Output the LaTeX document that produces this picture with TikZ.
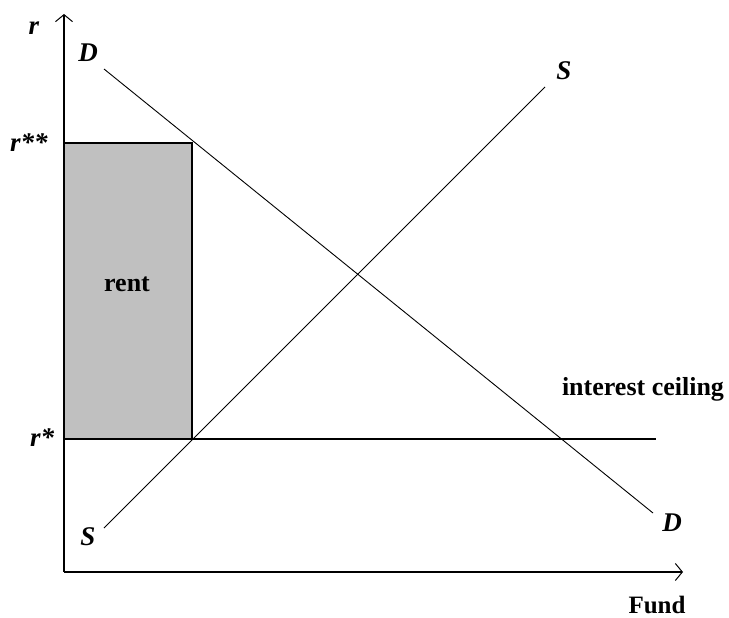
\documentclass[tikz,border=0pt]{standalone}
\usepackage{fontspec}
\setmainfont{Liberation Serif}
\usepackage{xcolor}
\usetikzlibrary{arrows.meta, positioning, calc}

\definecolor{rentgray}{RGB}{192,192,192}

\tikzset{
  axis/.style={line width=1.4pt, -{Straight Barb[length=7pt,width=17pt,line width=1pt]}},
  curve/.style={line width=0.9pt},
  lbl/.style={font=\fontsize{27}{30}\selectfont\bfseries\itshape, inner sep=0pt, anchor=base},
  txt/.style={font=\fontsize{26}{29}\selectfont\bfseries, inner sep=0pt, anchor=base}
}

\begin{document}
\begin{tikzpicture}[x=1pt, y=-1pt]
\useasboundingbox (0,0) rectangle (729,618);

% axes
\coordinate (O) at (64,572);
\coordinate (ytop) at (64,14);
\coordinate (xend) at (683,572);

% prices
\coordinate (rss) at (64,143);
\coordinate (rs) at (64,439);
\coordinate (ceilEnd) at (656,439);
\coordinate (rentTop) at (192,143);
\coordinate (rentBot) at (192,439);

% rent area
\filldraw[fill=rentgray, draw=black, line width=1.4pt] (rs) rectangle (rentTop);
\node[txt] (rent) at (127,291) {rent};

% interest ceiling
\draw[line width=1.4pt] (rs) -- (ceilEnd);
\node[txt] (ceil) at (643,395) {interest ceiling};

% demand
\coordinate (Dtop) at (104,69);
\coordinate (Dbot) at (653,513);
\draw[curve] (Dtop) -- (Dbot);
\node[lbl] (D1) at (88,62) {D};
\node[lbl] (D2) at (672,531) {D};

% supply
\coordinate (Sbot) at (104,528);
\coordinate (Stop) at (545,87);
\draw[curve] (Sbot) -- (Stop);
\node[lbl] (S1) at (88,545) {S};
\node[lbl] (S2) at (564,80) {S};

\draw[axis] (O) -- (ytop);
\draw[axis] (O) -- (xend);

\node[lbl] (r) at (34,35) {r};
\node[lbl, anchor=base west] (r2) at (10,151) {r**};
\node[lbl, anchor=base west] (r1) at (30,446) {r*};
\node[txt, font=\fontsize{25}{28}\selectfont\bfseries] (fund) at (657,613) {Fund};
\end{tikzpicture}
\end{document}
